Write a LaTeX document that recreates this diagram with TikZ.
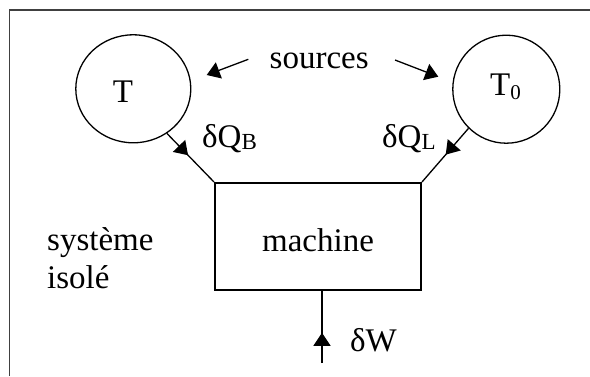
\documentclass[tikz,border=0pt]{standalone}
\usepackage{fontspec}
\setmainfont{Liberation Serif}
\usetikzlibrary{arrows.meta,shapes.geometric,decorations.markings}
\begin{document}
\begin{tikzpicture}[x=1pt,y=-1pt,
  txt/.style={font=\fontsize{33}{38}\selectfont, inner sep=0pt},
  res/.style={draw, line width=1.3pt, ellipse, inner sep=0pt},
  tiparrow/.style={-{Triangle[length=13pt,width=17pt]}, line width=1.3pt},
  midtip/.style={line width=1.3pt, postaction={decorate},
    decoration={markings, mark=at position #1 with {\arrow{Triangle[length=13pt,width=17pt]}}}},
]
\useasboundingbox (0,0) rectangle (590,376);
\draw[line width=1.5pt, black!75] (9.5,376) -- (9.5,10) -- (590,10);

\node[res, minimum width=115pt, minimum height=108pt] (T) at (133.3,88.8) {};
\node[res, minimum width=107pt, minimum height=108pt] (T0) at (506.3,89.2) {};
\node[txt, anchor=base] (Tl) at (123,102) {T};
\node[txt, anchor=base west] (T0l) at (490,95.7) {T\raisebox{-4pt}{\fontsize{21}{21}\selectfont 0}};

\node[txt, anchor=base] (src) at (319.2,68.3) {sources};
\coordinate (s1) at (248.3,59.3);
\coordinate (s1t) at (206.7,75);
\coordinate (s2) at (395,60);
\coordinate (s2t) at (438.3,76.7);
\draw[tiparrow] (s1) -- (s1t);
\draw[tiparrow] (s2) -- (s2t);

\node[draw, line width=2pt, minimum width=206pt, minimum height=107pt, inner sep=0pt] (box) at (318,236.5) {};
\node[txt, anchor=base] (mach) at (318,251) {machine};

\node[txt, anchor=base west] (QB) at (202,147) {δQ\raisebox{-2pt}{\fontsize{23}{23}\selectfont B}};
\node[txt, anchor=base west] (QL) at (382,147) {δQ\raisebox{-2pt}{\fontsize{23}{23}\selectfont L}};

\draw[midtip=0.45] (T.-53) -- (box.north west);
\draw[midtip=0.49] (T0.-134) -- (box.north east);

\node[txt, anchor=base west] (sys) at (47,250) {système};
\node[txt, anchor=base west] (iso) at (47,288) {isolé};

\coordinate (wb) at (322,363);
\draw[midtip=0.42] (wb) -- (wb |- box.south);
\node[txt, anchor=base west] (dW) at (350,351) {δW};
\end{tikzpicture}
\end{document}
